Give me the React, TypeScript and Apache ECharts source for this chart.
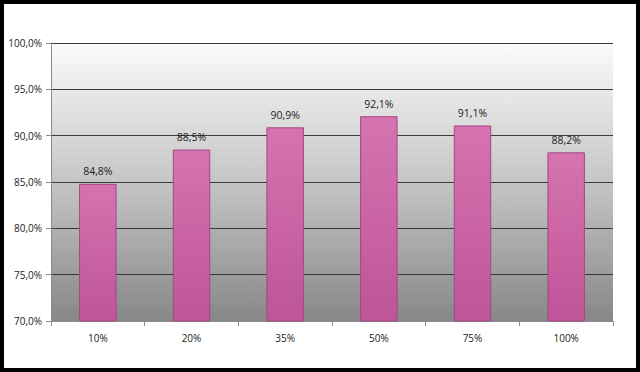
import React, { useEffect, useRef } from "react";
import * as echarts from "echarts";

const categories = ["10%", "20%", "35%", "50%", "75%", "100%"];
const values = [84.8, 88.5, 90.9, 92.1, 91.1, 88.2];

const fmt = (v: number) => v.toFixed(1).replace(".", ",") + "%";

export default function App() {
  const ref = useRef<HTMLDivElement>(null);
  useEffect(() => {
    if (!ref.current) return;
    const chart = echarts.init(ref.current, undefined, { renderer: "svg" });
    chart.setOption({
      animation: false,
      backgroundColor: "#ffffff",
      textStyle: { fontFamily: "Open Sans" },
      graphic: [
        {
          type: "rect",
          z: 100,
          shape: { x: 2, y: 2, width: 636, height: 368 },
          style: { fill: "none", stroke: "#000", lineWidth: 4 },
        },
      ],
      grid: {
        left: 51,
        right: 27,
        top: 43,
        bottom: 51,
        show: true,
        borderWidth: 0,
        backgroundColor: new echarts.graphic.LinearGradient(0, 0, 0, 1, [
          { offset: 0, color: "#fbfbfb" },
          { offset: 0.45, color: "#cbcbcb" },
          { offset: 1, color: "#878787" },
        ]),
      },
      xAxis: {
        type: "category",
        data: categories,
        axisLine: { lineStyle: { color: "#8c8c8c" } },
        axisTick: { show: true, length: 5, lineStyle: { color: "#8c8c8c" } },
        axisLabel: { color: "#222", fontSize: 10, margin: 12 },
      },
      yAxis: {
        type: "value",
        min: 70,
        max: 100,
        interval: 5,
        axisLine: { show: true, lineStyle: { color: "#8c8c8c" } },
        axisTick: { show: true, length: 5, lineStyle: { color: "#8c8c8c" } },
        axisLabel: { color: "#222", fontSize: 10, margin: 9, formatter: (v: number) => fmt(v) },
        splitLine: { show: true, lineStyle: { color: "#3a3a3a", width: 1 } },
      },
      series: [
        {
          type: "bar",
          data: values,
          barWidth: "40%",
          itemStyle: {
            color: new echarts.graphic.LinearGradient(0, 0, 0, 1, [
              { offset: 0, color: "#d773b0" },
              { offset: 1, color: "#bd5598" },
            ]),
            borderColor: "#a04880",
            borderWidth: 1,
          },
          label: {
            show: true,
            position: "top",
            distance: 7,
            color: "#222",
            fontSize: 10.5,
            formatter: (p: any) => fmt(p.value),
          },
        },
      ],
    });
    return () => chart.dispose();
  }, []);
  return (
    <div
      ref={ref}
      style={{ position: "fixed", left: 0, top: 0, width: 640, height: 372 }}
    />
  );
}
